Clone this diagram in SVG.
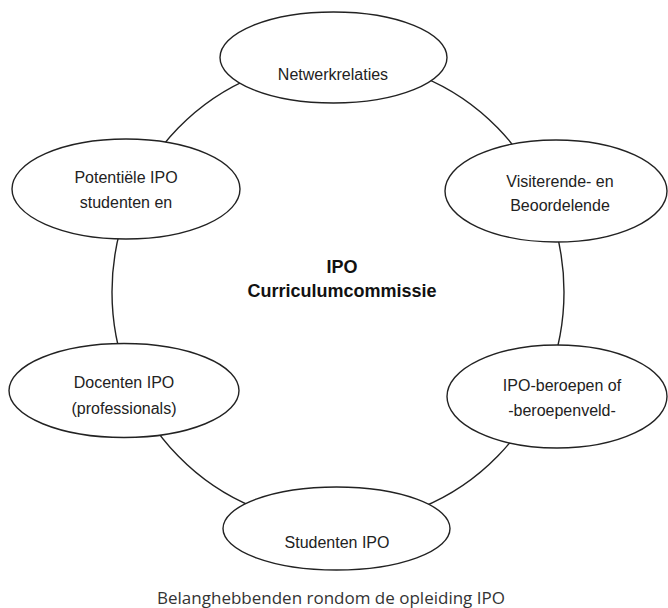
<svg xmlns="http://www.w3.org/2000/svg" width="668" height="608" viewBox="0 0 668 608">
<style>
.node ellipse{fill:#fff;stroke:#222;stroke-width:1.4}
.lbl{font-family:"Liberation Sans",Arial,sans-serif;font-size:16px;fill:#222;text-anchor:middle}
.ctr{font-family:"Liberation Sans",Arial,sans-serif;font-size:18px;font-weight:bold;fill:#111;text-anchor:middle}
.cap{font-family:"Open Sans",sans-serif;font-size:17px;fill:#333;text-anchor:middle}
</style>
<rect width="668" height="608" fill="#fff"/>
<g id="connectors">
<ellipse cx="338" cy="292" rx="226" ry="232" fill="none" stroke="#222" stroke-width="1.4"/>
</g>
<g id="center">
<text class="ctr" x="342" y="273">IPO</text>
<text class="ctr" x="342" y="297">Curriculumcommissie</text>
</g>
<g id="netwerkrelaties" class="node">
<ellipse cx="333.5" cy="57.5" rx="113.5" ry="45.5"/>
<text class="lbl" x="333" y="80">Netwerkrelaties</text>
</g>
<g id="potentiele" class="node">
<ellipse cx="126" cy="189" rx="114" ry="50"/>
<text class="lbl" x="126" y="183">Potentiële IPO</text>
<text class="lbl" x="126" y="208">studenten en</text>
</g>
<g id="visiterende" class="node">
<ellipse cx="556" cy="191" rx="111" ry="51"/>
<text class="lbl" x="560" y="187">Visiterende- en</text>
<text class="lbl" x="560" y="211">Beoordelende</text>
</g>
<g id="docenten" class="node">
<ellipse cx="124" cy="390.5" rx="115" ry="47"/>
<text class="lbl" x="124" y="388">Docenten IPO</text>
<text class="lbl" x="124" y="414">(professionals)</text>
</g>
<g id="beroepen" class="node">
<ellipse cx="557" cy="396.5" rx="110" ry="51.5"/>
<text class="lbl" x="562" y="391">IPO-beroepen of</text>
<text class="lbl" x="562" y="416">-beroepenveld-</text>
</g>
<g id="studenten" class="node">
<ellipse cx="336.5" cy="528.5" rx="113.5" ry="41.5"/>
<text class="lbl" x="337" y="548">Studenten IPO</text>
</g>
<text class="cap" x="331" y="604">Belanghebbenden rondom de opleiding IPO</text>
</svg>
